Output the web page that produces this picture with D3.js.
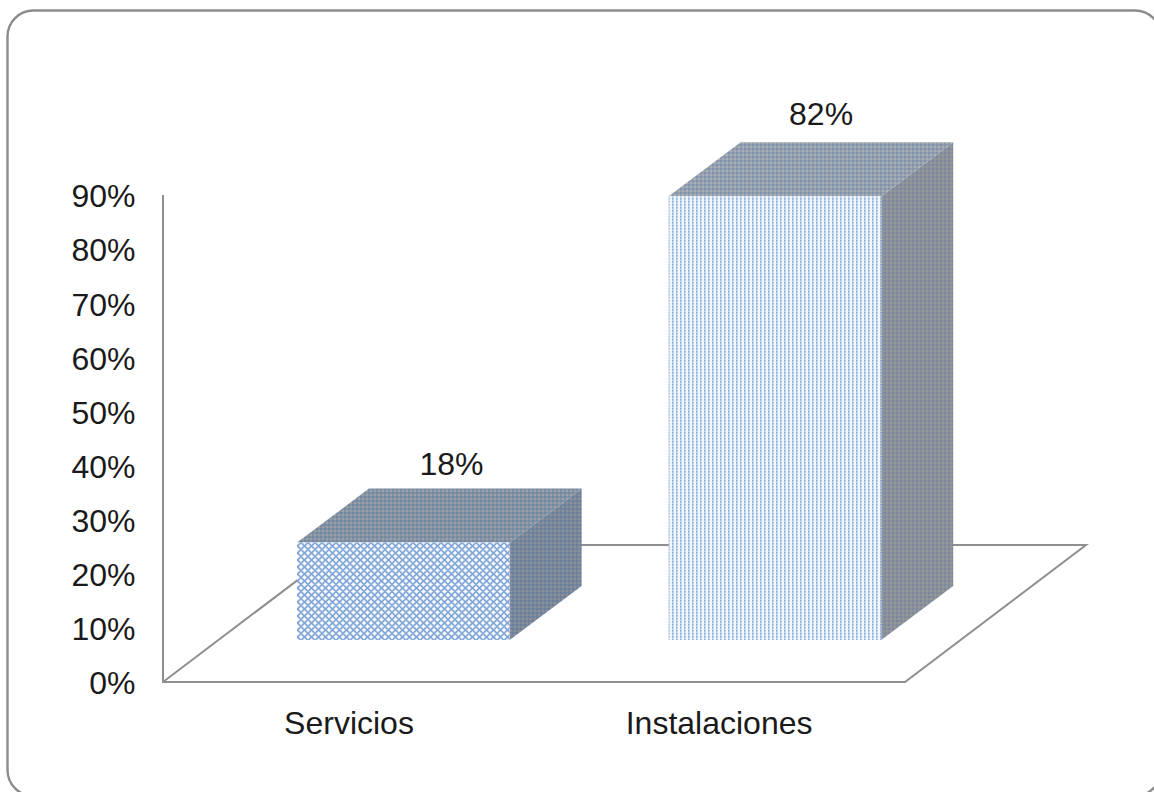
<!DOCTYPE html>
<html><head><meta charset="utf-8">
<script src="https://cdn.jsdelivr.net/npm/d3@7"></script>
<style>html,body{margin:0;padding:0;background:#fff;overflow:hidden}svg{display:block}text{font-family:"Liberation Sans",Arial,sans-serif;fill:#1a1a1a}</style>
</head><body><div id="chart"></div>
<script>
const categories = ["Servicios", "Instalaciones"];
const seriesValues = [18, 82];
const valueLabels = ["18%", "82%"];
const yTicks = [0,10,20,30,40,50,60,70,80,90];

const W=1154,H=792,FS=32;
const svg=d3.select("#chart").append("svg").attr("width",W).attr("height",H);
const defs=svg.append("defs");

function weave(id,base,a,b){
  const p=defs.append("pattern").attr("id",id).attr("width",4).attr("height",4).attr("patternUnits","userSpaceOnUse");
  p.append("rect").attr("width",4).attr("height",4).attr("fill",base);
  p.append("rect").attr("width",2).attr("height",2).attr("fill",a);
  p.append("rect").attr("x",2).attr("y",2).attr("width",2).attr("height",2).attr("fill",b);
}
weave("top0","#84929f","#7288a8","#9aa1ab");
weave("side0","#788699","#6a7f9e","#8a919b");
weave("top1","#939eae","#8192ad","#abafb6");
weave("side1","#8a919b","#7a879c","#959799");

const p1=defs.append("pattern").attr("id","front0").attr("width",7).attr("height",7).attr("patternUnits","userSpaceOnUse");
p1.append("rect").attr("width",7).attr("height",7).attr("fill","#dfe9f6");
p1.append("path").attr("d","M0 3.5L3.5 0L7 3.5L3.5 7Z").attr("fill","none").attr("stroke","#7ba3d6").attr("stroke-width",1.4);
[[3.5,3.5],[0,0],[7,0],[0,7],[7,7]].forEach(c=>p1.append("circle").attr("cx",c[0]).attr("cy",c[1]).attr("r",1.2).attr("fill","#ffffff"));

const p2=defs.append("pattern").attr("id","front1").attr("width",4).attr("height",3).attr("patternUnits","userSpaceOnUse");
p2.append("rect").attr("width",4).attr("height",3).attr("fill","#f1f6fc");
p2.append("rect").attr("x",0).attr("width",1.5).attr("height",3).attr("fill","#bcd2ed");
p2.append("rect").attr("x",0).attr("width",1.5).attr("height",1.5).attr("fill","#8aaedc");

// frame
svg.append("rect").attr("x",7.5).attr("y",10.5).attr("width",1153.5).attr("height",785.5).attr("rx",26)
  .attr("fill","none").attr("stroke","#8c8c8c").attr("stroke-width",2.4);

const y=d3.scaleLinear().domain([0,90]).range([682,195]);
const barX=d3.scalePoint().domain(categories).range([297,668.6]);
const axisX=163, floorRight=905, depthFloor=[181,-137], depthBar=[72,-54], barLift=42, barW=212.6;
const labelDx=[154.5,152.5], labelUp=[13.5,17.5], catDx=[52,50.5];

// floor and wall
const line=d3.line();
svg.append("path").attr("d",line([[axisX,y(90)],[axisX,y(0)],[floorRight,y(0)],[floorRight+depthFloor[0],y(0)+depthFloor[1]],[axisX+depthFloor[0],y(0)+depthFloor[1]],[axisX,y(0)]]))
  .attr("fill","none").attr("stroke","#8f8f8f").attr("stroke-width",2);

// y axis labels
const yAxis=d3.axisLeft(y).tickValues(yTicks).tickFormat(d=>d+"%").tickSize(0).tickPadding(27.5);
const gy=svg.append("g").attr("transform",`translate(${axisX},0)`).call(yAxis);
gy.select(".domain").remove();
gy.selectAll("text").attr("font-size",FS).attr("dy","0.37em").style("font-family",'"Liberation Sans",Arial,sans-serif').attr("fill","#1a1a1a");

// bars
categories.forEach((c,i)=>{
  const x0=barX(c), x1=x0+barW, b=y(0)-barLift, t=y(seriesValues[i])-barLift;
  const [dx,dy]=depthBar;
  svg.append("path").attr("d",line([[x1,b],[x1+dx,b+dy],[x1+dx,t+dy],[x1,t]])+"Z").attr("fill",`url(#side${i})`);
  svg.append("path").attr("d",line([[x0,t],[x1,t],[x1+dx,t+dy],[x0+dx,t+dy]])+"Z").attr("fill",`url(#top${i})`);
  svg.append("rect").attr("x",x0).attr("y",t).attr("width",barW).attr("height",b-t).attr("fill",`url(#front${i})`);
  svg.append("text").attr("x",x0+labelDx[i]).attr("y",t+dy-labelUp[i]).attr("text-anchor","middle").attr("font-size",FS).text(valueLabels[i]);
  svg.append("text").attr("x",x0+catDx[i]).attr("y",y(0)+52).attr("text-anchor","middle").attr("font-size",FS).text(c);
});
</script></body></html>
